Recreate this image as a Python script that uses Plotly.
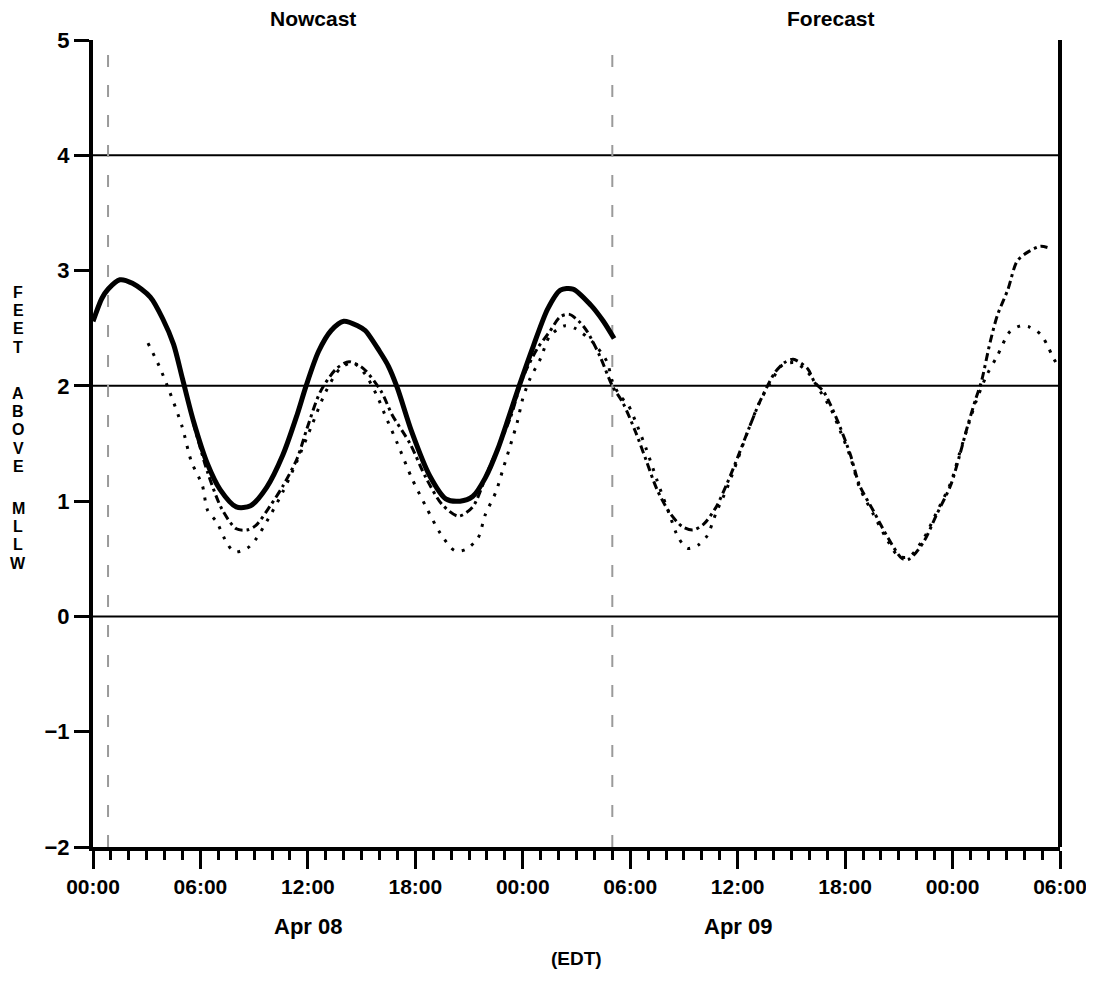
import plotly.graph_objects as go

# ---------------- data (hours after 00:00 Apr 08, EDT) ----------------
obs_hours = [0.0, 0.5, 0.85, 1.5, 2.2, 3.2, 3.9, 4.5, 5.0, 5.6, 6.4, 7.1, 8.0, 8.8,
             9.7, 10.6, 11.4, 11.9, 12.6, 13.3, 14.0, 14.8, 15.2, 16.0, 16.5, 17.0,
             17.8, 18.8, 19.7, 20.5, 21.2, 21.9, 22.6, 23.2, 23.8, 24.6, 25.4, 26.1, 26.8,
             27.8, 28.5, 29.1]
obs_ft = [2.56, 2.76, 2.84, 2.92, 2.89, 2.77, 2.58, 2.36, 2.06, 1.70, 1.32, 1.10, 0.95, 0.96,
          1.12, 1.40, 1.75, 2.00, 2.30, 2.48, 2.56, 2.52, 2.48, 2.30, 2.17, 1.98,
          1.60, 1.22, 1.02, 1.00, 1.04, 1.20, 1.45, 1.72, 2.00, 2.35, 2.67, 2.83, 2.84,
          2.70, 2.56, 2.41]

model_hours = [5.6, 6.4, 7.2, 8.0, 8.6, 9.1, 9.9, 10.6, 11.4, 11.95,
               12.7, 13.6, 14.3, 15.1, 16.1, 16.7, 17.7, 18.6, 19.5, 20.4,
               21.2, 22.1, 23.3, 24.0, 24.8, 25.5, 26.1, 26.6, 27.2, 27.6,
               28.3, 29.0, 29.6, 30.3, 30.9, 31.5, 32.2, 32.9, 33.5, 34.1,
               34.8, 35.4, 36.0, 36.6, 37.2, 37.8, 38.1, 38.6, 39.1, 39.9,
               40.3, 40.8, 41.2, 41.7, 42.3, 42.8, 43.6, 44.4, 45.2, 45.6,
               46.4, 47.1, 47.9, 48.4, 48.8, 49.3, 49.6, 50.1, 50.5, 51.1,
               51.6, 52.2, 52.9, 53.3]
model_ft = [1.68, 1.25, 0.93, 0.76, 0.75, 0.79, 0.96, 1.13, 1.37, 1.63,
            1.95, 2.15, 2.21, 2.15, 1.95, 1.75, 1.50, 1.20, 0.97, 0.87,
            0.95, 1.28, 1.72, 2.07, 2.32, 2.47, 2.60, 2.62, 2.55, 2.47,
            2.26, 2.00, 1.85, 1.60, 1.35, 1.10, 0.90, 0.78, 0.75, 0.80,
            0.95, 1.15, 1.38, 1.62, 1.85, 2.04, 2.12, 2.20, 2.23, 2.15,
            2.03, 1.95, 1.83, 1.65, 1.40, 1.14, 0.91, 0.68, 0.50, 0.50,
            0.65, 0.88, 1.14, 1.40, 1.63, 1.89, 2.03, 2.38, 2.61, 2.84,
            3.08, 3.16, 3.21, 3.20]

astro_hours = [3.07, 3.7, 4.25, 4.97, 5.5, 6.1, 6.4, 6.9, 7.5, 7.9, 8.6, 9.05,
               9.8, 10.6, 11.4, 12.2, 13.0, 13.8, 14.5, 15.2, 15.9, 16.3, 17.0,
               17.8, 18.6, 19.4, 20.2, 20.8, 21.5, 21.9, 22.5, 22.9, 23.3, 23.7,
               24.0, 24.4, 25.0, 25.5, 26.3, 26.9, 27.9, 28.7, 29.0, 29.4, 29.9,
               30.3, 30.9, 31.5, 32.2, 32.7, 33.2, 33.8, 34.3, 34.8, 35.4, 36.0,
               36.6, 37.2, 37.8, 38.5, 39.2, 39.9, 40.5, 41.2, 41.7, 42.3, 42.8,
               43.6, 44.4, 45.0, 45.6, 46.4, 47.1, 47.9, 48.4, 48.8, 49.3, 49.9,
               50.5, 51.2, 51.8, 52.3, 52.9, 53.3, 53.6, 53.9]
astro_ft = [2.37, 2.17, 1.96, 1.65, 1.34, 1.14, 0.92, 0.82, 0.63, 0.56, 0.59, 0.66,
            0.85, 1.08, 1.35, 1.65, 1.95, 2.15, 2.20, 2.10, 1.90, 1.75, 1.50,
            1.20, 0.95, 0.72, 0.57, 0.58, 0.68, 0.88, 1.08, 1.28, 1.48, 1.69,
            1.89, 2.06, 2.24, 2.43, 2.52, 2.50, 2.38, 2.21, 2.04, 1.92, 1.83,
            1.69, 1.45, 1.18, 0.88, 0.68, 0.59, 0.62, 0.70, 0.90, 1.11, 1.36,
            1.62, 1.85, 2.02, 2.18, 2.20, 2.12, 1.98, 1.80, 1.62, 1.38, 1.12,
            0.88, 0.65, 0.52, 0.52, 0.68, 0.90, 1.16, 1.42, 1.62, 1.86, 2.09,
            2.26, 2.47, 2.52, 2.51, 2.45, 2.35, 2.25, 2.17]

x_tick_hours = [0, 6, 12, 18, 24, 30, 36, 42, 48, 54]
x_tick_labels = ["00:00", "06:00", "12:00", "18:00", "00:00",
                 "06:00", "12:00", "18:00", "00:00", "06:00"]
minor_tick_hours = list(range(0, 55))
y_ticks = [-2, -1, 0, 1, 2, 3, 4, 5]
reference_levels = [0, 2, 4]
segment_bounds_hours = [0.84, 29.0]
date_labels = ["Apr 08", "Apr 09"]
date_label_hours = [12, 36]
section_titles = ["Nowcast", "Forecast"]
y_title_words = ["FEET", "ABOVE", "MLLW"]

FONT = "Liberation Sans, Arial, sans-serif"

# page has an 8px body margin: place the figure so the plot sits where the reference has it
W, H = 1086, 973
L, T, R, B = 85, 32, 34, 134
PH = H - T - B  # plot height in px

fig = go.Figure()
fig.add_trace(go.Scatter(x=astro_hours, y=astro_ft, mode="lines",
                         line=dict(color="black", width=3, dash="3px,8px",
                                   shape="spline", smoothing=0.8),
                         hoverinfo="skip", showlegend=False))
fig.add_trace(go.Scatter(x=model_hours, y=model_ft, mode="lines",
                         line=dict(color="black", width=3, dash="8px,4px,3px,4px",
                                   shape="spline", smoothing=0.8),
                         hoverinfo="skip", showlegend=False))
fig.add_trace(go.Scatter(x=obs_hours, y=obs_ft, mode="lines",
                         line=dict(color="black", width=5, shape="spline", smoothing=0.8),
                         hoverinfo="skip", showlegend=False))

shapes = []
for lv in reference_levels:
    shapes.append(dict(type="line", xref="paper", x0=0, x1=1, yref="y", y0=lv, y1=lv,
                       line=dict(color="black", width=2), layer="below"))
for h in segment_bounds_hours:
    shapes.append(dict(type="line", xref="x", x0=h, x1=h, yref="paper", y0=0, y1=1,
                       line=dict(color="#9a9a9a", width=2, dash="12px,18px"), layer="below"))
shapes.append(dict(type="line", xref="paper", x0=1, x1=1, yref="paper", y0=0, y1=1,
                   line=dict(color="black", width=4)))

annotations = []
for t, xp in zip(section_titles, [0.2275, 0.763]):
    annotations.append(dict(text="<b>%s</b>" % t, xref="paper", yref="paper",
                            x=xp, y=1.0, yshift=22, showarrow=False,
                            font=dict(family=FONT, size=21, color="black"),
                            xanchor="center", yanchor="middle"))
for lab, h in zip(date_labels, date_label_hours):
    annotations.append(dict(text="<b>%s</b>" % lab, xref="x", yref="paper",
                            x=h, y=0, yshift=-79, showarrow=False,
                            font=dict(family=FONT, size=22, color="black"),
                            xanchor="center", yanchor="middle"))
annotations.append(dict(text="<b>(EDT)</b>", xref="paper", yref="paper",
                        x=0.500, y=0, yshift=-111, showarrow=False,
                        font=dict(family=FONT, size=19, color="black"),
                        xanchor="center", yanchor="middle"))

# vertical stacked y-axis title (letter centres measured from the plot top, px)
word_starts_px = [252, 353, 468]
step = 18.4
for w, start in zip(y_title_words, word_starts_px):
    for i, ch in enumerate(w):
        pos = start + i * step
        annotations.append(dict(text="<b>%s</b>" % ch, xref="paper", yref="paper",
                                x=0, xshift=-75, y=1 - pos / PH, showarrow=False,
                                font=dict(family=FONT, size=16, color="black"),
                                xanchor="center", yanchor="middle"))

fig.update_layout(
    width=W, height=H,
    margin=dict(l=L, r=R, t=T, b=B, autoexpand=False),
    paper_bgcolor="white", plot_bgcolor="white",
    shapes=shapes, annotations=annotations,
    xaxis=dict(range=[0, 54], tickmode="array", tickvals=x_tick_hours, ticktext=x_tick_labels,
               ticks="outside", ticklen=18, tickwidth=3, tickcolor="black",
               showline=True, linecolor="black", linewidth=4, showgrid=False, zeroline=False,
               tickfont=dict(family=FONT, size=21, color="black", weight="bold"),
               minor=dict(tickmode="array", tickvals=minor_tick_hours, ticks="outside",
                          ticklen=9, tickwidth=3, tickcolor="black", showgrid=False),
               ticklabelstandoff=0, automargin=False, ticklabeloverflow="allow"),
    yaxis=dict(range=[-2, 5], tickmode="array", tickvals=y_ticks,
               ticks="outside", ticklen=15, tickwidth=3, tickcolor="black",
               showline=True, linecolor="black", linewidth=4, showgrid=False, zeroline=False,
               tickfont=dict(family=FONT, size=22, color="black", weight="bold"),
               ticklabelstandoff=0, automargin=False),
)

fig.write_html("out.html")
